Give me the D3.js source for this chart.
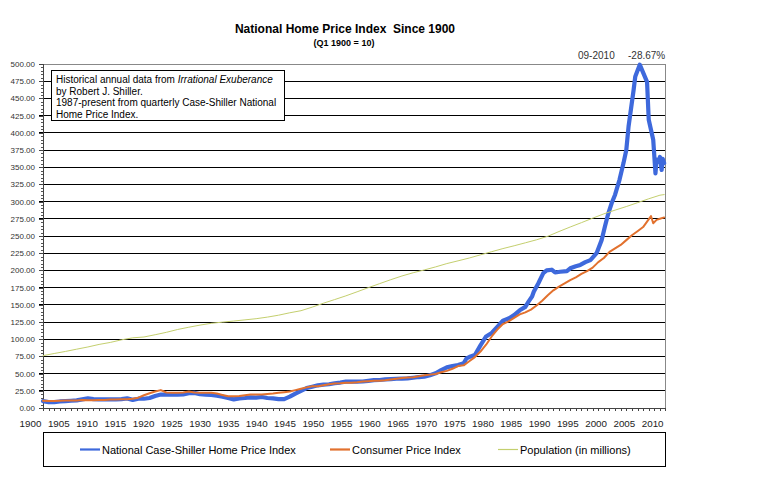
<!DOCTYPE html>
<html>
<head>
<meta charset="utf-8">
<script src="https://cdn.jsdelivr.net/npm/d3@7"></script>
<style>
  html, body { margin: 0; padding: 0; background: #fff; }
  svg { display: block; font-family: "Liberation Sans", Arial, sans-serif; }
</style>
</head>
<body>
<svg id="chart" width="766" height="481"></svg>
<script>
// ---------- DATA ----------
const hpiYears = [1900,1901,1902,1903,1904,1905,1906,1907,1908,1909,1910,1911,1912,1913,1914,1915,1916,1917,1918,1919,
  1920,1921,1922,1923,1924,1925,1926,1927,1928,1929,1930,1931,1932,1933,1934,1935,1936,1937,1938,1939,
  1940,1941,1942,1943,1944,1945,1946,1947,1948,1949,1950,1951,1952,1953,1954,1955,1956,1957,1958,1959,
  1960,1961,1962,1963,1964,1965,1966,1967,1968,1969,1970,1971,1972,1973,1974,1975,1975.5,1976,1977,1978,1979,
  1980,1981,1982,1983,1984,1985,1986,1986.6,1987.2,1987.5,1988.3,1989.2,1989.8,1990.7,1991.3,1992.2,1993.4,1994.0,1995.0,1995.8,
  1996.7,1997.6,1998.7,1999.6,2000.2,2000.8,2001.4,2002.0,2002.8,2003.5,2004.0,2004.4,2005.3,2005.6,2006.4,
  2007.7,2008.0,2008.8,2009.2,2009.4,2009.7,2010.0,2010.3,2010.5,2010.75];
const hpiValues = [10,8.5,8.5,9.5,10,10.5,11,12.5,14,13,12.5,12.5,12.5,12.5,13,14,11.8,13.5,13.5,14.5,
  17.5,19.5,19.5,19.5,19.5,19.8,21.5,22,20,19.5,19,18,16.5,14.5,12.6,14,14.5,15.5,15,16,
  14.5,14,13,13,16.5,21,25,29,31,33,34,34.5,36,37,38.3,38.3,38.3,38.5,39.5,40.5,
  40.7,41.5,42,42.5,42.8,43,44,45,45.6,47.5,50.4,55,59,61,62.5,65,72,74,77,91,104,
  109,118,127,130,135,142,147,155,162,169,181,196,200,201,197,198,199,203,206,208,
  212,215,225,244,264,283,298,310,332,356,375,409,462,482,499,
  474,419,390,341,361,358,365,346,362,356];

const cpiYears = [1900,1901,1902,1903,1904,1905,1906,1907,1908,1909,1910,1911,1912,1913,1914,1915,1916,1917,1918,1919,
  1920,1921,1922,1923,1924,1925,1926,1927,1928,1929,1930,1931,1932,1933,1934,1935,1936,1937,1938,1939,
  1940,1941,1942,1943,1944,1945,1946,1947,1948,1949,1950,1951,1952,1953,1954,1955,1956,1957,1958,1959,
  1960,1961,1962,1963,1964,1965,1966,1967,1968,1969,1970,1971,1972,1973,1974,1975,1976,1977,1978,1979,
  1980,1981,1982,1983,1984,1985,1986,1987,1988,1989,1990,1991,1992,1993,1994,1995,1996,1997,1998,1999,
  2000,2001,2002,2003,2004,2005,2006,2007,2007.7,2008.4,2008.8,2009.4,2010,2010.75];
const cpiValues = [10.5,10,10.2,10.6,10.8,10.8,11,11.5,11.2,11.2,11.8,11.8,12.2,12.5,12.6,12.8,13.5,15,18.5,21.5,
  24,26,22.5,22,22,22.5,24,22.5,22,22,22,21,19,17,17,17.5,18.5,19.5,19.5,19.5,
  20.5,21,22,23,24,26,28,30,31.5,31.5,33,34.5,35.5,36,36.8,36.8,37.5,38.5,39,39.5,
  39.7,40.5,41.5,42.5,43.5,44.5,44.8,46,47.5,48.5,49.5,52,54,57,61,62,68,74,82,92,
  104,114,122,126,131,136,139,143,149,156,164,171,176.5,181,186,190,195,199,204,212,
  218,227,232,237,244,251,257,263,271,279,268.6,273.5,275,277];

const popYears = [1900,1902,1904,1906,1908,1910,1912,1914,1916,1918,1920,1922,1924,1926,1928,1930,1932,1934,1936,1938,
  1940,1942,1944,1946,1948,1950,1952,1954,1956,1958,1960,1962,1964,1966,1968,1970,1972,1974,1976,1978,
  1980,1982,1984,1986,1988,1990,1992,1994,1996,1998,2000,2002,2004,2006,2008,2010,2010.75];
const popValues = [76.1,79.2,82.2,85.5,88.7,92.4,95.3,99.1,102.0,103.2,106.5,110.0,114.1,117.4,120.5,123.1,124.8,126.4,128.1,129.8,
  132.1,134.9,138.4,141.4,146.6,152.3,157.6,163.0,168.9,174.9,180.7,186.5,191.9,196.6,200.7,205.1,209.9,213.9,218.0,222.6,
  227.2,231.7,235.8,240.1,244.5,249.6,256.5,263.1,269.4,275.9,282.2,287.6,292.8,298.4,304.1,309.3,310.2];

const yTicks = d3.range(0, 501, 25);
const xLabelYears = d3.range(1900, 2011, 5);
const seriesNames = ["National Case-Shiller Home Price Index", "Consumer Price Index", "Population (in millions)"];
const titleText = "National Home Price Index  Since 1900";
const subtitleText = "(Q1 1900 = 10)";
const noteLines = [
  [{t:"Historical annual data from ", i:false}, {t:"Irrational Exuberance", i:true}],
  [{t:"by Robert J. Shiller.", i:false}],
  [{t:"1987-present from quarterly Case-Shiller National", i:false}],
  [{t:"Home Price Index.", i:false}]
];
const peakNote = ["09-2010", "-28.67%"];

// ---------- LAYOUT ----------
const svg = d3.select("#chart");
const L = 43, R = 665, T = 64, B = 408;
const colors = ["#3e69dc", "#e2712e", "#c4cf6e"];

svg.append("rect").attr("width", 766).attr("height", 481).attr("fill", "#fff");

const x = d3.scaleLinear().domain([1900, 2010.9]).range([L, R]);
const y = d3.scaleLinear().domain([0, 500]).range([B, T]);

// gridlines
svg.append("g").selectAll("line").data(yTicks.filter(d => d > 0 && d < 500)).join("line")
  .attr("x1", L - 4).attr("x2", R).attr("y1", d => y(d)).attr("y2", d => y(d))
  .attr("stroke", "#000").attr("stroke-width", 1).attr("shape-rendering", "crispEdges");

// plot border top/right (gray)
svg.append("line").attr("x1", L - 4).attr("x2", R).attr("y1", y(500)).attr("y2", y(500))
  .attr("stroke", "#888").attr("shape-rendering", "crispEdges");
svg.append("line").attr("x1", R).attr("x2", R).attr("y1", y(500)).attr("y2", y(0))
  .attr("stroke", "#888").attr("shape-rendering", "crispEdges");

// y axis
const yAxis = d3.axisLeft(y).tickValues(yTicks).tickSize(4).tickPadding(3)
  .tickFormat(d3.format(".2f"));
const gy = svg.append("g").attr("transform", `translate(${L},0)`).call(yAxis);
gy.select(".domain").attr("stroke", "#444").attr("shape-rendering", "crispEdges");
gy.selectAll(".tick line").attr("stroke", "#444").attr("shape-rendering", "crispEdges");
gy.selectAll("text").attr("font-size", 8).attr("fill", "#333")
  .attr("font-family", "'Liberation Sans', Arial, sans-serif").attr("dx", -1);
// minor y ticks
svg.append("g").selectAll("line").data(d3.range(0, 501, 5).filter(d => d % 25 !== 0)).join("line")
  .attr("x1", L - 2).attr("x2", L).attr("y1", d => Math.round(y(d)) + 0.5).attr("y2", d => Math.round(y(d)) + 0.5)
  .attr("stroke", "#555");

// x axis
const gx = svg.append("g").attr("transform", `translate(0,${B})`)
  .call(d3.axisBottom(x).tickValues(d3.range(1900, 2011)).tickSize(3).tickFormat(""));
gx.select(".domain").attr("stroke", "#444").attr("shape-rendering", "crispEdges");
gx.selectAll(".tick line").attr("stroke", "#444").attr("shape-rendering", "crispEdges");

const labelX = d3.scaleLinear().domain([1900, 2010]).range([x(1900) - 12.5, x(2010) - 7.3]);
svg.append("g").selectAll("text").data(xLabelYears).join("text")
  .attr("x", d => labelX(d)).attr("y", B + 19)
  .attr("text-anchor", "middle").attr("font-size", 9.8).attr("fill", "#222")
  .text(d => d);

// series lines
const line = d3.line().x(d => x(d[0])).y(d => y(d[1]));
const series = [
  d3.zip(hpiYears, hpiValues),
  d3.zip(cpiYears, cpiValues),
  d3.zip(popYears, popValues)
];
const widths = [4.2, 2, 1];
series.forEach((s, i) => {
  svg.append("path").datum(s).attr("d", line)
    .attr("fill", "none").attr("stroke", colors[i]).attr("stroke-width", widths[i])
    .attr("stroke-linejoin", "round").attr("stroke-linecap", "round");
});

// title
svg.append("text").attr("x", 345).attr("y", 33).attr("text-anchor", "middle")
  .attr("font-size", 12).attr("font-weight", "bold").style("white-space", "pre").attr("fill", "#000")
  .text(titleText);
svg.append("text").attr("x", 344).attr("y", 46).attr("text-anchor", "middle")
  .attr("font-size", 9).attr("font-weight", "bold").attr("fill", "#000")
  .text(subtitleText);

// peak note
svg.append("text").attr("x", 578).attr("y", 59).attr("font-size", 10).attr("fill", "#333").text(peakNote[0]);
svg.append("text").attr("x", 628).attr("y", 59).attr("font-size", 10).attr("fill", "#333").text(peakNote[1]);

// note box
svg.append("rect").attr("x", 51.5).attr("y", 70.5).attr("width", 233).attr("height", 50)
  .attr("fill", "#fff").attr("stroke", "#000").attr("stroke-width", 1);
const noteText = svg.append("g");
noteLines.forEach((ln, i) => {
  const t = noteText.append("text").attr("x", 56).attr("y", 83 + i * 11.5).attr("font-size", 10).attr("fill", "#000")
    .style("white-space", "pre");
  ln.forEach(p => t.append("tspan").attr("font-style", p.i ? "italic" : "normal").text(p.t));
});

// legend
svg.append("rect").attr("x", L + 0.5).attr("y", 432.5).attr("width", R - L).attr("height", 34)
  .attr("fill", "#fff").attr("stroke", "#000").attr("stroke-width", 1);
const legendX = [80, 330, 498];
seriesNames.forEach((n, i) => {
  svg.append("line").attr("x1", legendX[i]).attr("x2", legendX[i] + 20).attr("y1", 449.5).attr("y2", 449.5)
    .attr("stroke", colors[i]).attr("stroke-width", i === 2 ? 1.2 : 2.2);
  svg.append("text").attr("x", legendX[i] + 22).attr("y", 453.5).attr("font-size", 11).attr("fill", "#000")
    .text(n);
});
</script>
</body>
</html>
